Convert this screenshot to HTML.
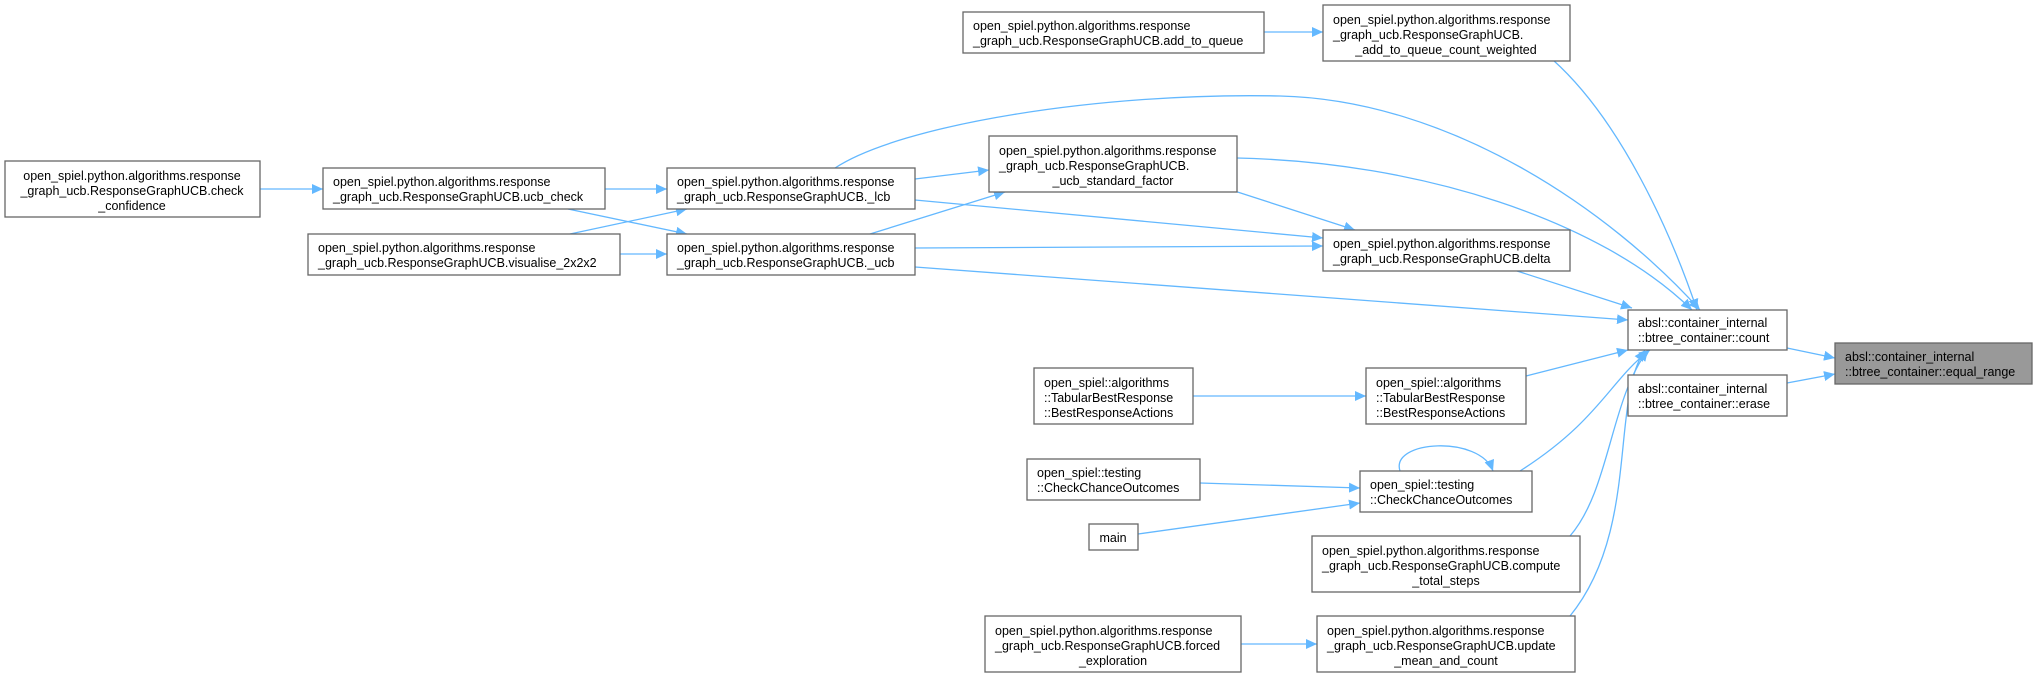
<!DOCTYPE html>
<html><head><meta charset="utf-8"><style>
html,body{margin:0;padding:0;background:#fff;}
svg{display:block;}
text{font-family:"Liberation Sans",Helvetica,Arial,sans-serif;font-size:12.5px;fill:#000;}
.n{fill:#fff;stroke:#666;stroke-width:1.3;}
.g{fill:#999;stroke:#666;stroke-width:1.3;}
.e{fill:none;stroke:#63b8ff;stroke-width:1.3;}
</style></head><body>
<svg width="2037" height="677" viewBox="0 0 2037 677" xmlns="http://www.w3.org/2000/svg">
<defs><marker id="a" markerUnits="userSpaceOnUse" markerWidth="12" markerHeight="10" refX="11" refY="5" orient="auto"><path d="M0,0 L11,5 L0,10 z" fill="#63b8ff"/></marker></defs>
<g class="edges">
<path class="e" marker-end="url(#a)" d="M260,189 L323,189"/>
<path class="e" marker-end="url(#a)" d="M605,189 L667,189"/>
<path class="e" marker-end="url(#a)" d="M568,209 L687,234"/>
<path class="e" marker-end="url(#a)" d="M570,234 L687,209"/>
<path class="e" marker-end="url(#a)" d="M620,254 L667,254"/>
<path class="e" marker-end="url(#a)" d="M915,179 L989,170"/>
<path class="e" marker-end="url(#a)" d="M870,234 L1005,192"/>
<path class="e" marker-end="url(#a)" d="M915,200 L1323,238"/>
<path class="e" marker-end="url(#a)" d="M915,248 L1323,246"/>
<path class="e" marker-end="url(#a)" d="M835,168 C900,125 1100,92 1280,96 C1450,100 1610,210 1700,310"/>
<path class="e" marker-end="url(#a)" d="M915,267 L1628,320"/>
<path class="e" marker-end="url(#a)" d="M1264,32 L1323,32"/>
<path class="e" marker-end="url(#a)" d="M1553,60 C1620,120 1670,230 1697,310"/>
<path class="e" marker-end="url(#a)" d="M1237,158 C1420,162 1600,220 1692,310"/>
<path class="e" marker-end="url(#a)" d="M1222,187 L1355,230"/>
<path class="e" marker-end="url(#a)" d="M1517,271 L1632,308"/>
<path class="e" marker-end="url(#a)" d="M1787,348 L1835,358"/>
<path class="e" marker-end="url(#a)" d="M1787,383 L1835,374"/>
<path class="e" marker-end="url(#a)" d="M1193,396 L1366,396"/>
<path class="e" marker-end="url(#a)" d="M1526,376 L1628,350"/>
<path class="e" marker-end="url(#a)" d="M1200,483 L1360,488"/>
<path class="e" marker-end="url(#a)" d="M1138,534 L1360,503"/>
<path class="e" marker-end="url(#a)" d="M1400,471 C1390,440 1480,435 1493,471"/>
<path class="e" marker-end="url(#a)" d="M1520,471 C1600,420 1610,380 1650,350"/>
<path class="e" marker-end="url(#a)" d="M1570,536 C1610,490 1610,400 1648,350"/>
<path class="e" marker-end="url(#a)" d="M1241,644 L1317,644"/>
<path class="e" marker-end="url(#a)" d="M1570,616 C1640,530 1610,400 1645,350"/>
</g>
<g>
<rect class="n" x="5" y="161" width="255" height="56"/>
<text x="132" y="180" text-anchor="middle">open_spiel.python.algorithms.response</text>
<text x="132" y="195" text-anchor="middle">_graph_ucb.ResponseGraphUCB.check</text>
<text x="132" y="210" text-anchor="middle">_confidence</text>

<rect class="n" x="323" y="168" width="282" height="41"/>
<text x="333" y="186">open_spiel.python.algorithms.response</text>
<text x="333" y="201">_graph_ucb.ResponseGraphUCB.ucb_check</text>

<rect class="n" x="308" y="234" width="312" height="41"/>
<text x="318" y="252">open_spiel.python.algorithms.response</text>
<text x="318" y="267">_graph_ucb.ResponseGraphUCB.visualise_2x2x2</text>

<rect class="n" x="667" y="168" width="248" height="41"/>
<text x="677" y="186">open_spiel.python.algorithms.response</text>
<text x="677" y="201">_graph_ucb.ResponseGraphUCB._lcb</text>

<rect class="n" x="667" y="234" width="248" height="41"/>
<text x="677" y="252">open_spiel.python.algorithms.response</text>
<text x="677" y="267">_graph_ucb.ResponseGraphUCB._ucb</text>

<rect class="n" x="963" y="12" width="301" height="41"/>
<text x="973" y="30">open_spiel.python.algorithms.response</text>
<text x="973" y="45">_graph_ucb.ResponseGraphUCB.add_to_queue</text>

<rect class="n" x="1323" y="5" width="247" height="56"/>
<text x="1333" y="24">open_spiel.python.algorithms.response</text>
<text x="1333" y="39">_graph_ucb.ResponseGraphUCB.</text>
<text x="1446" y="54" text-anchor="middle">_add_to_queue_count_weighted</text>

<rect class="n" x="989" y="136" width="248" height="56"/>
<text x="999" y="155">open_spiel.python.algorithms.response</text>
<text x="999" y="170">_graph_ucb.ResponseGraphUCB.</text>
<text x="1113" y="185" text-anchor="middle">_ucb_standard_factor</text>

<rect class="n" x="1323" y="230" width="247" height="41"/>
<text x="1333" y="248">open_spiel.python.algorithms.response</text>
<text x="1333" y="263">_graph_ucb.ResponseGraphUCB.delta</text>

<rect class="n" x="1628" y="310" width="159" height="40"/>
<text x="1638" y="327">absl::container_internal</text>
<text x="1638" y="342">::btree_container::count</text>

<rect class="g" x="1835" y="343" width="197" height="41"/>
<text x="1845" y="361">absl::container_internal</text>
<text x="1845" y="376">::btree_container::equal_range</text>

<rect class="n" x="1628" y="375" width="159" height="41"/>
<text x="1638" y="393">absl::container_internal</text>
<text x="1638" y="408">::btree_container::erase</text>

<rect class="n" x="1034" y="368" width="159" height="56"/>
<text x="1044" y="387">open_spiel::algorithms</text>
<text x="1044" y="402">::TabularBestResponse</text>
<text x="1044" y="417">::BestResponseActions</text>

<rect class="n" x="1366" y="368" width="160" height="56"/>
<text x="1376" y="387">open_spiel::algorithms</text>
<text x="1376" y="402">::TabularBestResponse</text>
<text x="1376" y="417">::BestResponseActions</text>

<rect class="n" x="1027" y="459" width="173" height="41"/>
<text x="1037" y="477">open_spiel::testing</text>
<text x="1037" y="492">::CheckChanceOutcomes</text>

<rect class="n" x="1360" y="471" width="172" height="41"/>
<text x="1370" y="489">open_spiel::testing</text>
<text x="1370" y="504">::CheckChanceOutcomes</text>

<rect class="n" x="1089" y="524" width="49" height="26"/>
<text x="1113" y="542" text-anchor="middle">main</text>

<rect class="n" x="1312" y="536" width="268" height="56"/>
<text x="1322" y="555">open_spiel.python.algorithms.response</text>
<text x="1322" y="570">_graph_ucb.ResponseGraphUCB.compute</text>
<text x="1446" y="585" text-anchor="middle">_total_steps</text>

<rect class="n" x="985" y="616" width="256" height="56"/>
<text x="995" y="635">open_spiel.python.algorithms.response</text>
<text x="995" y="650">_graph_ucb.ResponseGraphUCB.forced</text>
<text x="1113" y="665" text-anchor="middle">_exploration</text>

<rect class="n" x="1317" y="616" width="258" height="56"/>
<text x="1327" y="635">open_spiel.python.algorithms.response</text>
<text x="1327" y="650">_graph_ucb.ResponseGraphUCB.update</text>
<text x="1446" y="665" text-anchor="middle">_mean_and_count</text>
</g>
</svg>
</body></html>
